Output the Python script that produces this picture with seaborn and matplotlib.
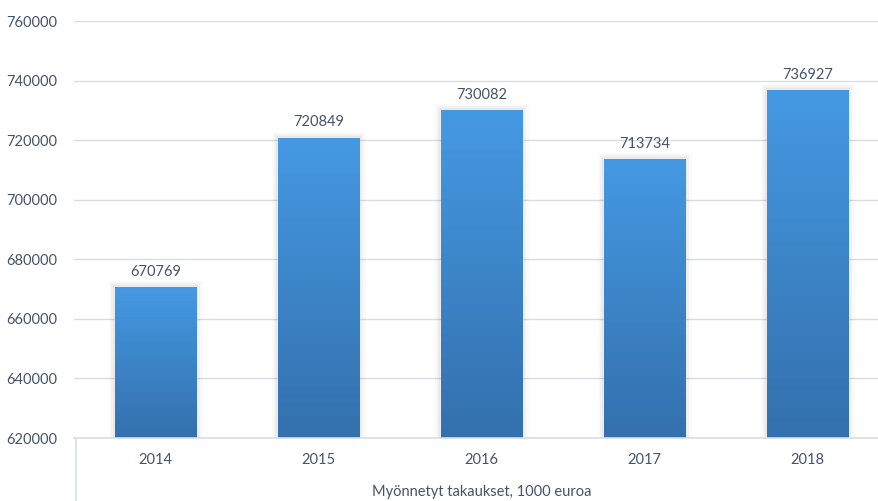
import matplotlib
matplotlib.use("Agg")
import matplotlib.pyplot as plt
import matplotlib.patheffects as pe
from matplotlib.colors import LinearSegmentedColormap
import numpy as np
import pandas as pd
import seaborn as sns

years = ["2014", "2015", "2016", "2017", "2018"]
values = [670769, 720849, 730082, 713734, 736927]
y_ticks = [620000, 640000, 660000, 680000, 700000, 720000, 740000, 760000]
x_title = "Myönnetyt takaukset, 1000 euroa"

df = pd.DataFrame({"year": years, "value": values})

sns.set_style("white")
plt.rcParams["font.family"] = ["Lato", "DejaVu Sans"]

text_color = "#44546A"
grid_color = "#D9DDE3"

fig = plt.figure(figsize=(8.79, 5.01), dpi=100)
ax = fig.add_axes([0.0842, 0.1257, 0.927, 0.832])

sns.barplot(data=df, x="year", y="value", ax=ax, width=0.5, color="#3F88D0",
            saturation=1, zorder=3)

ax.set_ylim(y_ticks[0], y_ticks[-1])
ax.set_xlim(-0.5, len(years) - 0.5)
ax.set_yticks(y_ticks)
ax.set_yticklabels([str(t) for t in y_ticks])

cmap = LinearSegmentedColormap.from_list("g", ["#3470AD", "#4599E3"])
grad = np.linspace(0, 1, 256).reshape(-1, 1)

for p in ax.patches:
    p.set_path_effects([
        pe.Stroke(linewidth=9, foreground="#000000", alpha=0.02),
        pe.Stroke(linewidth=6, foreground="#000000", alpha=0.03),
        pe.Stroke(linewidth=3, foreground="#000000", alpha=0.04),
        pe.Normal(),
    ])
    x0 = p.get_x()
    w = p.get_width()
    h = p.get_height()
    im = ax.imshow(grad, cmap=cmap, aspect="auto", origin="lower",
                   extent=[x0, x0 + w, y_ticks[0], h], zorder=4,
                   interpolation="bicubic")
    im.set_clip_path(p)

ax.set_xlim(-0.5, len(years) - 0.5)
ax.set_ylim(y_ticks[0], y_ticks[-1])

for i, v in enumerate(values):
    ax.annotate(str(v), (i, v), xytext=(0, 6), textcoords="offset points",
                ha="center", va="bottom", fontsize=10.5, color=text_color, zorder=5)

ax.grid(axis="y", color=grid_color, linewidth=1, zorder=0)
ax.set_axisbelow(True)
for s in ["top", "right", "left"]:
    ax.spines[s].set_visible(False)
ax.spines["bottom"].set_color(grid_color)
ax.spines["bottom"].set_linewidth(1.2)
ax.spines["bottom"].set_zorder(6)

ax.tick_params(axis="both", length=0, labelsize=10.5, labelcolor=text_color)
ax.tick_params(axis="y", pad=12)
ax.tick_params(axis="x", pad=11)
ax.set_ylabel("")
ax.set_xlabel(x_title, fontsize=10.5, color=text_color, labelpad=13)

ax.plot([0.002, 0.002], [0, -0.2], transform=ax.transAxes, clip_on=False,
        color=grid_color, linewidth=1.2)

fig.savefig("out.png", dpi=100)
